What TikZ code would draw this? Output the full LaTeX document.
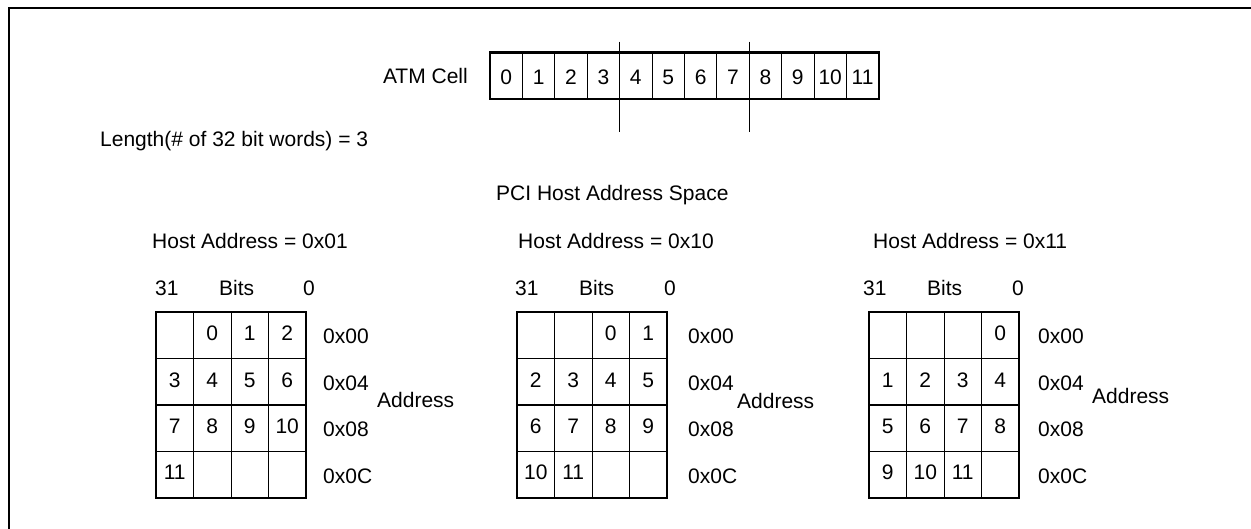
\documentclass[tikz,border=0pt]{standalone}
\usepackage{fontspec}
\setmainfont{Liberation Sans}
\begin{document}
\begin{tikzpicture}[x=1pt,y=-1pt,
  every node/.style={font=\fontsize{21}{24}\selectfont, inner sep=0pt},
  lbl/.style={anchor=base west},
  num/.style={anchor=base},
  outerbox/.style={line width=2.4pt},
  gridline/.style={line width=1pt},
  framel/.style={line width=2.2pt}]
\useasboundingbox (0,0) rectangle (1251,529);
% frame
\draw[framel] (9,529) -- (9,7.7) -- (1251,7.7);
% ATM cell
\node[anchor=base east] (atm) at (468,84) {ATM Cell};
\foreach \i in {1,...,11} \draw[gridline] (490+32.4*\i,52.7) -- (490+32.4*\i,99.3);
\draw[outerbox] (490,52.7) rectangle (878.8,99.3);
\draw[gridline] (619.6,41.7) -- (619.6,131.7);
\draw[gridline] (749.2,41.7) -- (749.2,131.7);
\foreach \i in {0,...,11} \node[num] (cell\i) at (490+32.4*\i+16.2,85) {\i};
% texts
\node[lbl] (len) at (100,146.7) {Length(\# of 32 bit words) = 3};
\node[lbl] (pci) at (496,200.5) {PCI Host Address Space};
% tables
\foreach \L/\off/\tx/\bx/\zx/\ax/\adx/\ady/\hx/\hv/\nm in
  {156/1/155/219/303/323/377/407/152/0x01/a,
   517/2/515/579/664/688/737/408/518/0x10/b,
   869/3/863/927/1012/1038/1092/403/873/0x11/c}{
  \node[lbl] (\nm-host) at (\hx,248.5) {Host Address = \hv};
  \node[lbl] (\nm-31) at (\tx,296) {31};
  \node[lbl] (\nm-bits) at (\bx,296) {Bits};
  \node[lbl] (\nm-0) at (\zx,296) {0};
  \foreach \c in {1,2,3} \draw[gridline] (\L+37.5*\c,312.3) -- (\L+37.5*\c,497.7);
  \foreach \r in {1,2,3} \draw[gridline] (\L,312.3+46.35*\r) -- (\L+150,312.3+46.35*\r);
  \draw[outerbox] (\L,312.3) rectangle (\L+150,497.7);
  \foreach \r in {0,...,3}{
    \foreach \c in {0,...,3}{
      \pgfmathtruncatemacro{\n}{4*\r+\c-\off}
      \ifnum\n>-1 \ifnum\n<12
        \node[num] (\nm-n\n) at (\L+37.5*\c+18.75,312.3+46.35*\r+28.4) {\n};
      \fi\fi
    }
  }
  \node[lbl] (\nm-a0) at (\ax,344) {0x00};
  \node[lbl] (\nm-a4) at (\ax,390.5) {0x04};
  \node[lbl] (\nm-a8) at (\ax,436) {0x08};
  \node[lbl] (\nm-aC) at (\ax,483) {0x0C};
  \node[lbl] (\nm-addr) at (\adx,\ady) {Address};
}
\end{tikzpicture}
\end{document}
